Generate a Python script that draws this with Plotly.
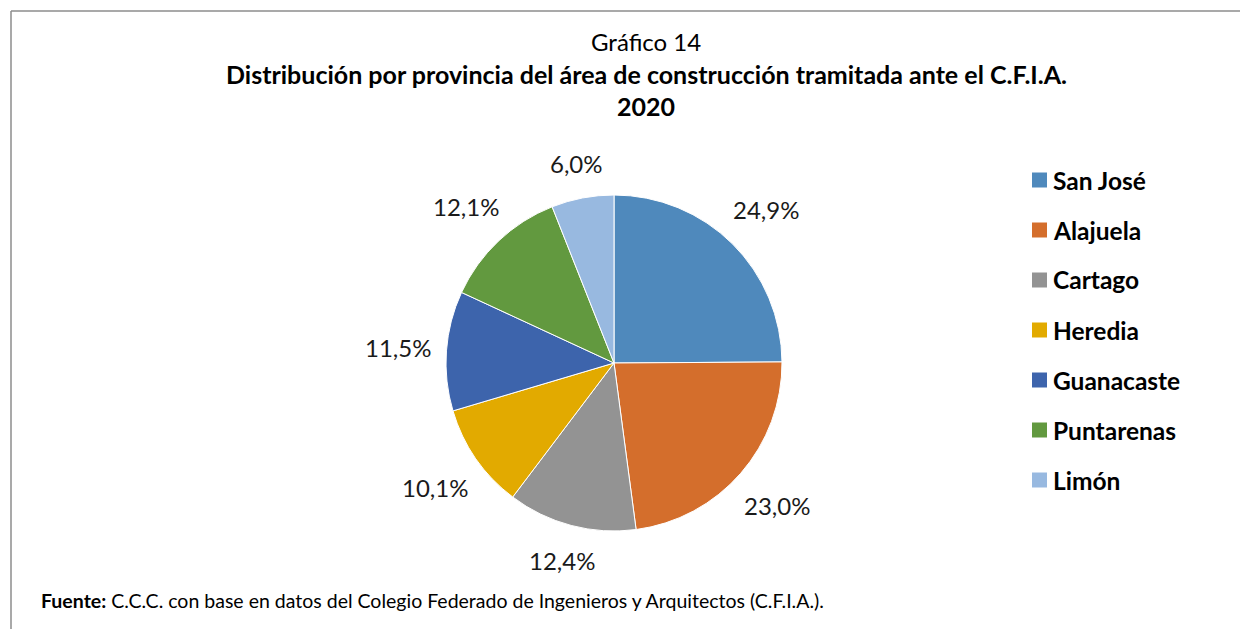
import math
import plotly.graph_objects as go

provincias = ['San José', 'Alajuela', 'Cartago', 'Heredia', 'Guanacaste', 'Puntarenas', 'Limón']
porcentajes = [24.9, 23.0, 12.4, 10.1, 11.5, 12.1, 6.0]
colores = ['#4F89BC', '#D46E2C', '#939393', '#E2AA00', '#3D64AC', '#62993F', '#98B9E0']

# the page body has an 8px margin, so the figure is 16px smaller than the window
OFF = 8
W, H = 1248 - OFF, 629 - OFF
cx, cy, r = 614, 363, 168  # pie centre and radius in window pixels
font = 'Lato, Carlito, Calibri, sans-serif'


def px(x):
    return (x - OFF) / W


def py(y):
    return 1 - (y - OFF) / H


fig = go.Figure()
fig.add_trace(go.Pie(
    labels=provincias,
    values=porcentajes,
    sort=False,
    direction='clockwise',
    rotation=0,
    marker=dict(colors=colores, line=dict(color='white', width=1)),
    textinfo='none',
    hoverinfo='label+percent',
    domain=dict(x=[px(cx - r), px(cx + r)], y=[py(cy + r), py(cy - r)]),
    showlegend=False
))

annotations = []

# data labels at the middle angle of each slice, outside the pie
total = sum(porcentajes)
acum = 0
for v in porcentajes:
    a = 2 * math.pi * (acum + v / 2) / total
    acum += v
    s, c = math.sin(a), math.cos(a)
    dist = r + 16 + abs(s) * 32 + abs(c) * 13
    annotations.append(dict(
        x=px(cx + dist * s), y=py(cy - dist * c), xref='paper', yref='paper',
        text=f'{v:.1f}%'.replace('.', ','), showarrow=False,
        xanchor='center', yanchor='middle',
        font=dict(family=font, size=24, color='#1a1a1a')
    ))

# legend drawn by hand to match the wide spacing
shapes = []
for i, (name, col) in enumerate(zip(provincias, colores)):
    ly = 180 + 50 * i
    shapes.append(dict(type='rect', xref='paper', yref='paper',
                       x0=px(1032), x1=px(1047), y0=py(ly + 7.5), y1=py(ly - 7.5),
                       fillcolor=col, line=dict(width=0)))
    annotations.append(dict(
        x=px(1051), y=py(ly), xref='paper', yref='paper',
        text=f'<b>{name}</b>', showarrow=False, xanchor='left', yanchor='middle',
        font=dict(family=font, size=24.5, color='black')
    ))

# titles and source note
annotations += [
    dict(x=px(646), y=py(41), xref='paper', yref='paper', text='Gráfico 14',
         showarrow=False, xanchor='center', yanchor='middle',
         font=dict(family=font, size=24, color='black')),
    dict(x=px(646), y=py(74), xref='paper', yref='paper',
         text='<b>Distribución por provincia del área de construcción tramitada ante el C.F.I.A.</b>',
         showarrow=False, xanchor='center', yanchor='middle',
         font=dict(family=font, size=25, color='black')),
    dict(x=px(646), y=py(106), xref='paper', yref='paper', text='<b>2020</b>',
         showarrow=False, xanchor='center', yanchor='middle',
         font=dict(family=font, size=25, color='black')),
    dict(x=px(39), y=py(600), xref='paper', yref='paper',
         text='<b>Fuente:</b> C.C.C. con base en datos del Colegio Federado de Ingenieros y Arquitectos (C.F.I.A.).',
         showarrow=False, xanchor='left', yanchor='middle',
         font=dict(family=font, size=19.5, color='black')),
]

# border (only the left and top edges are visible)
shapes += [
    dict(type='line', xref='paper', yref='paper', x0=px(11), x1=px(11), y0=-0.1, y1=py(11),
         line=dict(color='#8c8c8c', width=1.5)),
    dict(type='line', xref='paper', yref='paper', x0=px(11), x1=1.1, y0=py(11), y1=py(11),
         line=dict(color='#8c8c8c', width=1.5)),
]

fig.update_layout(
    width=W, height=H,
    margin=dict(l=0, r=0, t=0, b=0),
    paper_bgcolor='white',
    plot_bgcolor='white',
    annotations=annotations,
    shapes=shapes
)

fig.write_html('out.html')
